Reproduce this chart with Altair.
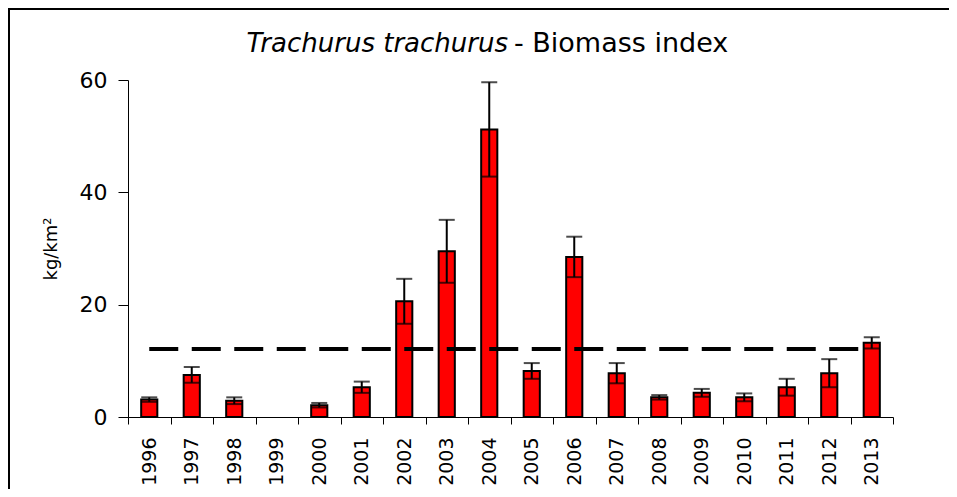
import altair as alt
import pandas as pd

years = [str(y) for y in range(1996, 2014)]
biomass = [3.1, 7.5, 2.9, None, 2.1, 5.3, 20.6, 29.5, 51.2, 8.2, 28.5, 7.8, 3.5, 4.3, 3.5, 5.3, 7.8, 13.2]
errors = [0.4, 1.4, 0.6, None, 0.4, 1.0, 4.0, 5.6, 8.4, 1.4, 3.6, 1.8, 0.4, 0.7, 0.7, 1.5, 2.5, 1.0]
series_mean = 12.1

rows = []
for y, v, e in zip(years, biomass, errors):
    rows.append({
        "year": y,
        "value": v,
        "lo": (v - e) if v is not None else None,
        "hi": (v + e) if v is not None else None,
        "mean": series_mean,
    })
df = pd.DataFrame(rows)
bars_df = df.dropna(subset=["value"])

FONT = "DejaVu Sans"
W, H = 765, 337
PAD_R, PAD_B = 56, 72

x_enc = alt.X(
    "year:N",
    sort=years,
    scale=alt.Scale(paddingInner=0, paddingOuter=0),
    axis=alt.Axis(
        title=None,
        labelAngle=270,
        labelFont=FONT,
        labelFontSize=19,
        labelColor="black",
        labelPadding=13,
        tickSize=7,
        tickColor="black",
        domainColor="black",
        tickBand="extent",
        grid=False,
        labelOverlap=False,
    ),
)
y_scale = alt.Scale(domain=[0, 60], nice=False)
y_enc = alt.Y(
    "value:Q",
    scale=y_scale,
    axis=alt.Axis(
        title="kg/km²",
        values=[0, 20, 40, 60],
        labelFont=FONT,
        labelFontSize=22,
        labelColor="black",
        labelPadding=11,
        tickSize=10,
        tickColor="black",
        domainColor="black",
        titleFont=FONT,
        titleFontSize=18,
        titleFontWeight="normal",
        titleColor="black",
        titlePadding=19,
        grid=False,
    ),
)

base = alt.Chart(bars_df)

bars = base.mark_bar(
    color="#FF0000", stroke="black", strokeWidth=2, width=alt.RelativeBandSize(0.38)
).encode(x=x_enc, y=y_enc)

err = base.mark_rule(color="black", strokeWidth=2).encode(
    x=alt.X("year:N", sort=years),
    y=alt.Y("lo:Q", scale=y_scale),
    y2="hi:Q",
)
cap_hi = base.mark_tick(color="black", thickness=2, size=16).encode(
    x=alt.X("year:N", sort=years), y=alt.Y("hi:Q", scale=y_scale)
)
cap_lo = base.mark_tick(color="black", thickness=2, size=16).encode(
    x=alt.X("year:N", sort=years), y=alt.Y("lo:Q", scale=y_scale)
)

mean_line = alt.Chart(df).mark_line(
    color="black", strokeWidth=4, strokeDash=[29, 13.5]
).encode(x=alt.X("year:N", sort=years), y=alt.Y("mean:Q", scale=y_scale))

title_df = pd.DataFrame({"a": ["Trachurus trachurus"], "b": ["- Biomass index"]})
title_it = alt.Chart(title_df).mark_text(
    font=FONT, fontSize=26, fontStyle="italic", align="right", baseline="alphabetic", color="black"
).encode(text="a:N", x=alt.value(380), y=alt.value(-28))
title_rg = alt.Chart(title_df).mark_text(
    font=FONT, fontSize=27, align="left", baseline="alphabetic", color="black"
).encode(text="b:N", x=alt.value(386), y=alt.value(-28))

border_top = alt.Chart(title_df).mark_rule(color="black", strokeWidth=2).encode(
    x=alt.value(-121), x2=alt.value(W + PAD_R), y=alt.value(-71)
)
border_left = alt.Chart(title_df).mark_rule(color="black", strokeWidth=2).encode(
    x=alt.value(-119), y=alt.value(-80), y2=alt.value(H + PAD_B)
)

chart = (
    alt.layer(bars, err, cap_hi, cap_lo, mean_line, title_it, title_rg, border_top, border_left)
    .properties(
        width=W,
        height=H,
        autosize=alt.AutoSizeParams(type="none"),
        padding={"left": 120, "top": 72, "right": PAD_R, "bottom": PAD_B},
        background="white",
    )
    .configure_view(stroke=None)
)

chart.save("out.html", embed_options={"renderer": "svg", "actions": False})
